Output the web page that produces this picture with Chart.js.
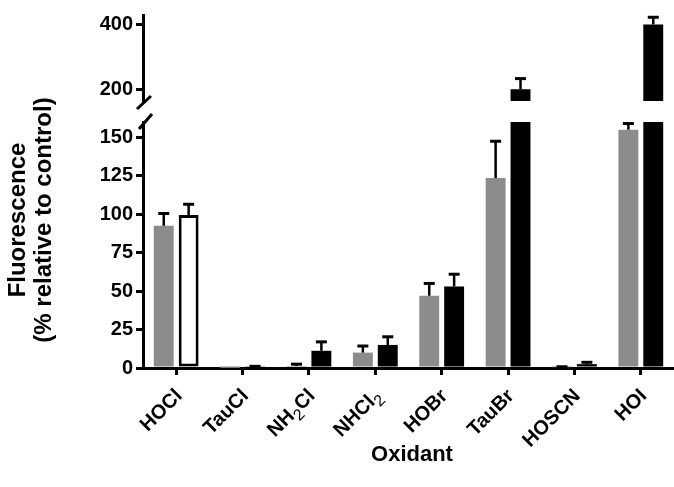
<!DOCTYPE html>
<html><head><meta charset="utf-8">
<script src="https://cdn.jsdelivr.net/npm/chart.js@4"></script>
<style>
html,body{margin:0;padding:0;background:#fff;}
#wrap{position:relative;width:674px;height:487px;overflow:hidden;}
#wrap canvas{position:absolute;left:0;top:0;}
</style></head><body>
<div id="wrap"><canvas id="upper" width="674" height="487"></canvas><canvas id="lower" width="674" height="487"></canvas></div>
<script>
const categories = ['HOCl','TauCl','NH2Cl','NHCl2','HOBr','TauBr','HOSCN','HOI'];
const grayValues  = [92.5, 0.1, 1.3, 10, 47, 123.5, 0.5, 155];
const grayErrors  = [8, 0, 1.2, 4.3, 8, 24, 0.3, 4];
const blackValues = [99.5, 0.8, 11.2, 15, 53, 200, 2.5, 400];
const blackErrors = [7, 0.3, 5.8, 5.3, 8, 33, 1.2, 22];
const lowerTicks = [0, 25, 50, 75, 100, 125, 150];
const upperTicks = [200, 400];
const lowerRange = [0, 160];
const upperRange = [164, 429];
const yTitle = ['Fluorescence', '(% relative to control)'];
const xTitle = 'Oxidant';

const FONT = "'Liberation Sans', Arial, Helvetica, sans-serif";
Chart.defaults.font.family = FONT;
Chart.defaults.color = '#000';

function makeDatasets() {
  return [
    { label: 'A', data: grayValues, errors: grayErrors, backgroundColor: '#8c8c8c',
      borderWidth: 0, clip: 0, categoryPercentage: 0.75, barPercentage: 0.8 },
    { label: 'B', data: blackValues, errors: blackErrors,
      backgroundColor: blackValues.map((v, i) => i === 0 ? '#ffffff' : '#000000'),
      borderColor: '#000000', borderWidth: blackValues.map((v, i) => i === 0 ? 3 : 0),
      borderSkipped: false, clip: 0, categoryPercentage: 0.75, barPercentage: 0.8 }
  ];
}

function yScale(range, ticks) {
  return {
    min: range[0], max: range[1],
    afterBuildTicks: s => { s.ticks = ticks.map(v => ({ value: v })); },
    afterFit: s => { s.width = 143; },
    grid: { drawOnChartArea: false, drawTicks: true, tickLength: 7, lineWidth: 3, color: '#000' },
    border: { display: true, width: 3, color: '#000' },
    ticks: { color: '#000', font: { size: 20, weight: 'bold' }, padding: 3 }
  };
}

const errorBarPlugin = {
  id: 'errbars',
  afterDatasetsDraw(chart) {
    const { ctx, chartArea: a, scales: { y } } = chart;
    ctx.save();
    ctx.beginPath(); ctx.rect(a.left, a.top, a.right - a.left, a.bottom - a.top); ctx.clip();
    ctx.strokeStyle = '#000';
    chart.data.datasets.forEach((ds, d) => {
      const meta = chart.getDatasetMeta(d);
      meta.data.forEach((el, i) => {
        const v = ds.data[i], e = ds.errors[i];
        if (!e) return;
        const y0 = y.getPixelForValue(v), y1 = y.getPixelForValue(v + e);
        ctx.lineWidth = 2.5;
        ctx.beginPath(); ctx.moveTo(el.x, y0); ctx.lineTo(el.x, y1); ctx.stroke();
        ctx.lineWidth = 3;
        ctx.beginPath(); ctx.moveTo(el.x - 5.5, y1); ctx.lineTo(el.x + 5.5, y1); ctx.stroke();
      });
    });
    ctx.restore();
  }
};

const decorPlugin = {
  id: 'decor',
  afterDraw(chart) {
    const { ctx, chartArea: a, scales: { x } } = chart;
    ctx.save();
    // x tick labels (rotated, with subscripts)
    ctx.fillStyle = '#000';
    categories.forEach((lab, i) => {
      const px = x.getPixelForValue(i);
      const parts = lab.match(/\d+|\D+/g).map(p => ({ t: p, sub: /\d/.test(p) }));
      const mainFont = "bold 20px " + FONT, subFont = "16px " + FONT;
      let total = 0;
      parts.forEach(p => { ctx.font = p.sub ? subFont : mainFont; p.w = ctx.measureText(p.t).width; total += p.w; });
      ctx.save();
      ctx.translate(px + 3, a.bottom + 25);
      ctx.rotate(-Math.PI / 4);
      ctx.textAlign = 'left'; ctx.textBaseline = 'middle';
      let cur = -total;
      parts.forEach(p => { ctx.font = p.sub ? subFont : mainFont; ctx.fillText(p.t, cur, p.sub ? 7 : 0); cur += p.w; });
      ctx.restore();
    });
    // axis titles
    ctx.font = "bold 24px " + FONT;
    ctx.textAlign = 'center'; ctx.textBaseline = 'middle';
    ctx.save();
    ctx.translate(18, 220); ctx.rotate(-Math.PI / 2);
    ctx.fillText(yTitle[0], 0, 0);
    ctx.restore();
    ctx.save();
    ctx.translate(44, 220); ctx.rotate(-Math.PI / 2);
    ctx.fillText(yTitle[1], 0, 0);
    ctx.restore();
    ctx.font = "bold 22px " + FONT;
    ctx.fillText(xTitle, 412, 455);
    // axis break marks
    ctx.strokeStyle = '#000'; ctx.lineWidth = 3;
    ctx.beginPath();
    ctx.moveTo(a.left - 6, a.top - 13); ctx.lineTo(a.left + 8, a.top - 26);
    ctx.moveTo(a.left - 4, a.top + 7); ctx.lineTo(a.left + 9, a.top - 8);
    ctx.stroke();
    ctx.restore();
  }
};

const base = {
  responsive: false, animation: false, devicePixelRatio: 1,
  plugins: { legend: { display: false }, tooltip: { enabled: false } }
};

new Chart(document.getElementById('upper'), {
  type: 'bar',
  data: { labels: categories, datasets: makeDatasets() },
  options: Object.assign({}, base, {
    layout: { padding: { left: 0, right: 0, top: 13, bottom: 386 } },
    scales: {
      x: { display: false, offset: true },
      y: yScale(upperRange, upperTicks)
    }
  }),
  plugins: [errorBarPlugin]
});

new Chart(document.getElementById('lower'), {
  type: 'bar',
  data: { labels: categories, datasets: makeDatasets() },
  options: Object.assign({}, base, {
    layout: { padding: { left: 0, right: 0, top: 122, bottom: 0 } },
    scales: {
      x: {
        offset: true,
        afterFit: s => { s.height = 119; },
        grid: { drawOnChartArea: false, drawTicks: true, tickLength: 7, lineWidth: 3, color: '#000', offset: false },
        border: { display: true, width: 3, color: '#000' },
        ticks: { display: false }
      },
      y: yScale(lowerRange, lowerTicks)
    }
  }),
  plugins: [errorBarPlugin, decorPlugin]
});
</script>
</body></html>
